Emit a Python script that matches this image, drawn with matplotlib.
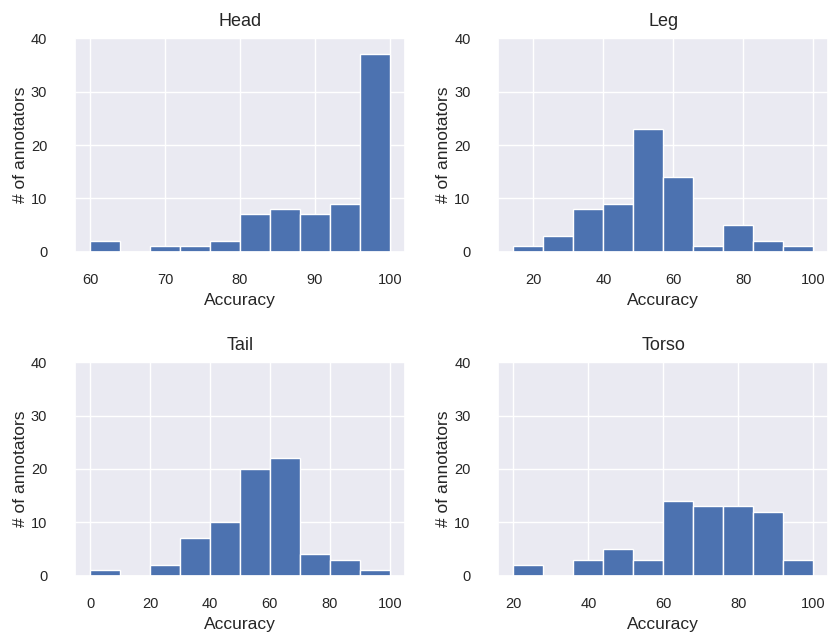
import numpy as np
import matplotlib
matplotlib.use('Agg')
import matplotlib.pyplot as plt
import seaborn as sns

sns.set_theme()
plt.rcParams['font.family'] = ['Liberation Sans', 'DejaVu Sans']
plt.rcParams['xtick.labelsize'] = 10.5
plt.rcParams['ytick.labelsize'] = 10.5
plt.rcParams['xtick.major.pad'] = 9.5
plt.rcParams['ytick.major.pad'] = 14
plt.rcParams['axes.labelsize'] = 12.5
plt.rcParams['axes.titlesize'] = 13
plt.rcParams['axes.titlepad'] = 9

# bin edges and counts
parts = ['Head', 'Leg', 'Tail', 'Torso']
head_edges = np.linspace(60, 100, 11)
head_counts = [2, 0, 1, 1, 2, 7, 8, 7, 9, 37]
leg_edges = np.linspace(100 / 7, 100, 11)
leg_counts = [1, 3, 8, 9, 23, 14, 1, 5, 2, 1]
tail_edges = np.linspace(0, 100, 11)
tail_counts = [1, 0, 2, 7, 10, 20, 22, 4, 3, 1]
torso_edges = np.linspace(20, 100, 11)
torso_counts = [2, 0, 3, 5, 3, 14, 13, 13, 12, 3]

edges = [head_edges, leg_edges, tail_edges, torso_edges]
counts = [head_counts, leg_counts, tail_counts, torso_counts]

fig, axes = plt.subplots(2, 2, figsize=(8.29, 6.34), dpi=100)
fig.subplots_adjust(left=0.0905, right=0.999, bottom=0.092, top=0.9395,
                    wspace=0.284, hspace=0.518)

for ax, name, e, c in zip(axes.flat, parts, edges, counts):
    centers = (e[:-1] + e[1:]) / 2
    ax.hist(centers, bins=e, weights=c, color='#4C72B0', edgecolor='white')
    ax.set_ylim(0, 40)
    ax.set_yticks([0, 10, 20, 30, 40])
    ax.set_title(name)
    ax.set_xlabel('Accuracy', labelpad=4)
    ax.set_ylabel('# of annotators', labelpad=2)

plt.savefig('out.png')
